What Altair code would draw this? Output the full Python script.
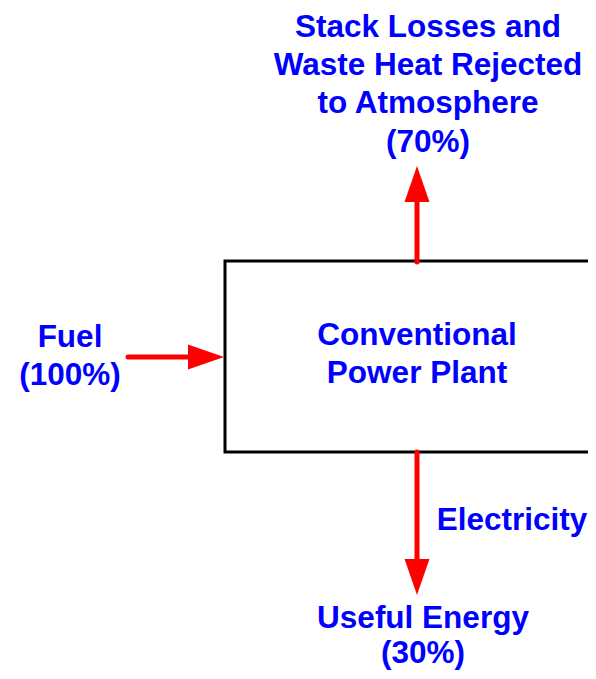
import altair as alt
import pandas as pd

# ---- diagram data (screen coordinates of the reference) ----
# Box (plant)
box_x1 = [225]
box_x2 = [640]
box_y1 = [261]
box_y2 = [452]

# Arrow shafts
shaft_x1 = [128, 417, 417]
shaft_x2 = [192, 417, 417]
shaft_y1 = [357, 200, 452]
shaft_y2 = [357, 262, 560]

# Arrow heads (center of head) and direction
head_x = [206, 417, 417]
head_y = [357, 184, 577]
head_dir = ["right", "up", "down"]

# Text lines
labels = [
    "Stack Losses and", "Waste Heat Rejected", "to Atmosphere", "(70%)",
    "Fuel", "(100%)",
    "Conventional", "Power Plant",
    "Electricity",
    "Useful Energy", "(30%)",
]
label_x = [428, 428, 428, 428, 70, 70, 417, 417, 512, 423, 423]
label_y = [37, 75, 113, 152, 347, 385, 345, 383, 530, 628, 663]

W, H = 596, 679
M = 8
PW, PH = W - 2 * M, H - 2 * M
xs = alt.Scale(domain=[M, M + PW], range=[0, PW], nice=False, zero=False)
ys = alt.Scale(domain=[M, M + PH], range=[0, PH], nice=False, zero=False)

box_df = pd.DataFrame({"x": box_x1, "x2": box_x2, "y": box_y1, "y2": box_y2})
shaft_df = pd.DataFrame({"x": shaft_x1, "x2": shaft_x2, "y": shaft_y1, "y2": shaft_y2})
head_df = pd.DataFrame({"x": head_x, "y": head_y, "dir": head_dir})
text_df = pd.DataFrame({"label": labels, "x": label_x, "y": label_y})

noax = dict(axis=None)

box = alt.Chart(box_df).mark_rect(
    fill="white", stroke="black", strokeWidth=3, clip=True
).encode(
    x=alt.X("x:Q", scale=xs, **noax), x2="x2:Q",
    y=alt.Y("y:Q", scale=ys, **noax), y2="y2:Q",
)

shafts = alt.Chart(shaft_df).mark_rule(
    color="#ff0000", strokeWidth=5, strokeCap="round"
).encode(
    x=alt.X("x:Q", scale=xs, **noax), x2="x2:Q",
    y=alt.Y("y:Q", scale=ys, **noax), y2="y2:Q",
)

shapes = {
    "right": "M1,0L-1,-0.694L-1,0.694Z",
    "up": "M0,-1L0.694,1L-0.694,1Z",
    "down": "M0,1L0.694,-1L-0.694,-1Z",
}
heads = alt.layer(*[
    alt.Chart(head_df[head_df["dir"] == d]).mark_point(
        shape=p, filled=True, fill="#ff0000", stroke="#ff0000",
        strokeWidth=0, size=1296, opacity=1
    ).encode(
        x=alt.X("x:Q", scale=xs, **noax),
        y=alt.Y("y:Q", scale=ys, **noax),
    )
    for d, p in shapes.items()
])

texts = alt.Chart(text_df).mark_text(
    font="Liberation Sans", fontSize=31.5, fontWeight="bold",
    color="#0000ff", align="center", baseline="alphabetic"
).encode(
    x=alt.X("x:Q", scale=xs, **noax),
    y=alt.Y("y:Q", scale=ys, **noax),
    text="label:N",
)

chart = alt.layer(box, shafts, heads, texts).properties(
    width=PW, height=PH, padding=0, autosize="none"
).configure_view(strokeWidth=0, stroke="transparent")

chart.save("out.html", embed_options={"renderer": "svg", "actions": False})
